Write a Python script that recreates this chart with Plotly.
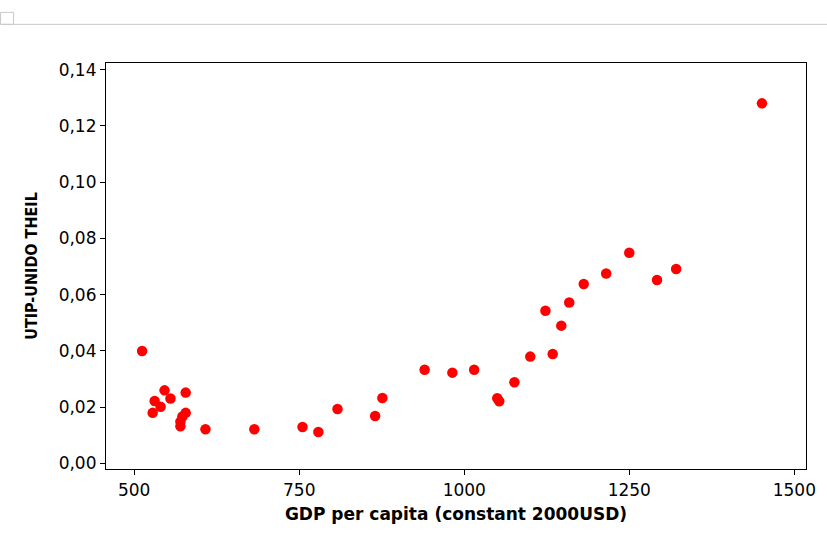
import plotly.graph_objects as go

gdp_per_capita = [512, 546, 578, 531, 555, 540, 528, 578, 573, 570, 570, 608, 682,
                  755, 779, 808, 865, 876, 940, 982, 1015, 1050, 1053, 1076, 1100,
                  1134, 1147, 1123, 1159, 1181, 1215, 1250, 1292, 1321, 1451]
theil = [0.0400, 0.0260, 0.0252, 0.0222, 0.0231, 0.0202, 0.0180, 0.0180, 0.0167,
         0.0149, 0.0132, 0.0122, 0.0122, 0.0130, 0.0112, 0.0194, 0.0169, 0.0233,
         0.0333, 0.0323, 0.0333, 0.0232, 0.0221, 0.0289, 0.0380, 0.0389, 0.0490,
         0.0543, 0.0572, 0.0638, 0.0675, 0.0749, 0.0652, 0.0691, 0.1280]

x_ticks = [500, 750, 1000, 1250, 1500]
y_ticks = [0.00, 0.02, 0.04, 0.06, 0.08, 0.10, 0.12, 0.14]

W, H = 827, 536
L, R, T, B = 105.5, 21, 62.7, 66.7
pw, ph = W - L - R, H - T - B

def px(x):
    return (x - L) / pw

def py(y):
    return (H - B - y) / ph

fig = go.Figure()
fig.add_trace(go.Scatter(
    x=gdp_per_capita, y=theil, mode="markers",
    marker=dict(color="#ff0000", size=10.5, line=dict(width=0)),
    showlegend=False,
))

tick_font = dict(family="DejaVu Sans, Verdana, sans-serif", size=17, color="#000000")
xtitle_font = dict(family="DejaVu Sans, Verdana, sans-serif", size=17, color="#000000", weight="bold")
ytitle_font = dict(family="DejaVu Sans Condensed, Arial Narrow, sans-serif",
                   size=16, color="#000000", weight="bold")

fig.update_layout(
    width=W, height=H,
    margin=dict(l=L, r=R, t=T, b=B, pad=0),
    paper_bgcolor="white", plot_bgcolor="white",
    separators=",.",
    xaxis=dict(
        range=[457.3, 1517.7], tickvals=x_ticks, tickformat="d",
        ticks="outside", ticklen=5, tickwidth=1, tickcolor="black",
        showline=True, linecolor="black", linewidth=1.2, mirror=True,
        showgrid=False, zeroline=False, tickfont=tick_font,
        title=dict(text="GDP per capita (constant 2000USD)", font=xtitle_font, standoff=9),
        automargin=False,
    ),
    yaxis=dict(
        range=[-0.00195, 0.14234], tickvals=y_ticks, tickformat=".2f",
        ticks="outside", ticklen=5, tickwidth=1, tickcolor="black",
        showline=True, linecolor="black", linewidth=1.2, mirror=True,
        showgrid=False, zeroline=False, tickfont=tick_font,
        title=dict(text="UTIP-UNIDO THEIL", font=ytitle_font, standoff=17),
        automargin=False,
    ),
    shapes=[
        dict(type="line", xref="paper", yref="paper", x0=px(0), x1=px(W), y0=py(24), y1=py(24),
             line=dict(color="#c8c8c8", width=1)),
        dict(type="rect", xref="paper", yref="paper", x0=px(0), x1=px(13), y0=py(24), y1=py(12),
             line=dict(color="#c8c8c8", width=1)),
    ],
)

fig.write_html("out.html")
